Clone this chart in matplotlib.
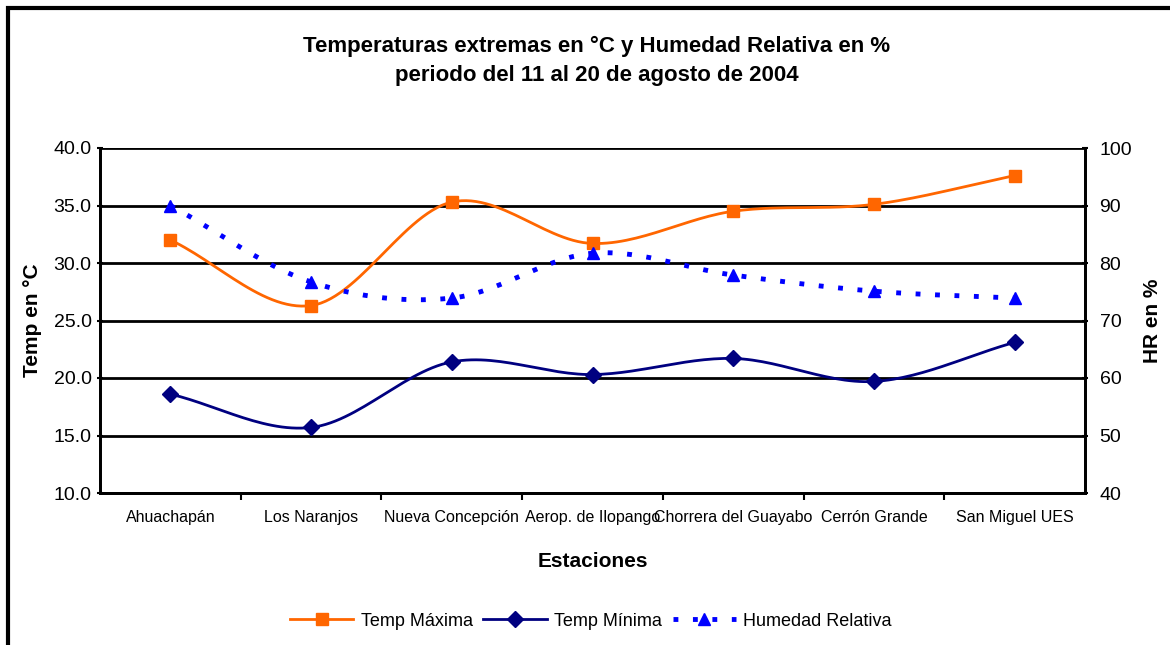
import numpy as np
import matplotlib.pyplot as plt
from matplotlib.lines import Line2D
from matplotlib.patches import Rectangle

plt.rcParams['font.family'] = ['Liberation Sans', 'DejaVu Sans']

estaciones = ["Ahuachapán", "Los Naranjos", "Nueva Concepción", "Aerop. de Ilopango",
              "Chorrera del Guayabo", "Cerrón Grande", "San Miguel UES"]
temp_max = [32.0, 26.3, 35.3, 31.7, 34.5, 35.1, 37.6]
temp_min = [18.6, 15.7, 21.4, 20.3, 21.7, 19.7, 23.1]
humedad = [90.0, 76.7, 73.9, 81.7, 77.9, 75.1, 73.9]


def smooth(x, y, n=30):
    # curva suavizada tipo Excel (Catmull-Rom)
    x = np.asarray(x, float)
    y = np.asarray(y, float)
    px = np.concatenate([[2 * x[0] - x[1]], x, [2 * x[-1] - x[-2]]])
    py = np.concatenate([[2 * y[0] - y[1]], y, [2 * y[-1] - y[-2]]])
    xs, ys = [], []
    t = np.linspace(0, 1, n)
    for i in range(1, len(px) - 2):
        for p, out in ((px, xs), (py, ys)):
            p0, p1, p2, p3 = p[i - 1], p[i], p[i + 1], p[i + 2]
            out.extend(0.5 * ((2 * p1) + (-p0 + p2) * t +
                              (2 * p0 - 5 * p1 + 4 * p2 - p3) * t ** 2 +
                              (-p0 + 3 * p1 - 3 * p2 + p3) * t ** 3))
    return np.array(xs), np.array(ys)


fig = plt.figure(figsize=(11.7, 6.45), dpi=100)
ax = fig.add_axes([100 / 1170, 1 - 493 / 645, 985 / 1170, 345 / 645])
ax2 = ax.twinx()

x = np.arange(len(estaciones))
naranja = '#FF6600'
azul_osc = '#000080'
azul = '#0000FF'

sx, sy = smooth(x, temp_max)
ax.plot(sx, sy, color=naranja, lw=2, zorder=3)
ax.plot(x, temp_max, 's', color=naranja, ms=8, zorder=4)
sx, sy = smooth(x, temp_min)
ax.plot(sx, sy, color=azul_osc, lw=2, zorder=3)
ax.plot(x, temp_min, 'D', color=azul_osc, ms=8, zorder=4)
sx, sy = smooth(x, humedad)
ax2.plot(sx, sy, color=azul, lw=3.5, linestyle=(0, (1, 3)), zorder=3)
ax2.plot(x, humedad, '^', color=azul, ms=9, zorder=4)

ax.set_xlim(-0.5, len(estaciones) - 0.5)
ax.set_ylim(10, 40)
ax.set_yticks(np.arange(10, 40.1, 5))
ax.set_yticklabels([f"{v:.1f}" for v in np.arange(10, 40.1, 5)])
ax2.set_ylim(40, 100)
ax2.set_yticks(np.arange(40, 101, 10))

ax.set_xticks(x)
ax.set_xticklabels(estaciones)
ax.set_xticks(np.arange(0.5, len(estaciones) - 0.5), minor=True)
ax.tick_params(axis='x', which='major', length=0, labelsize=11.5, pad=12)
ax.tick_params(axis='x', which='minor', length=5, width=1.5, direction='out')
ax.tick_params(axis='y', labelsize=14, length=5, width=1.5, direction='inout')
ax2.tick_params(axis='y', labelsize=14, length=5, width=1.5, direction='inout', pad=8)

ax.grid(axis='y', color='black', lw=2)
ax.set_axisbelow(True)
for a in (ax, ax2):
    a.spines['top'].set_visible(False)
    for s in ('left', 'right', 'bottom'):
        a.spines[s].set_linewidth(2)

ax.set_xlabel("Estaciones", fontsize=15, fontweight='bold', labelpad=20)
ax.set_ylabel("Temp en °C", fontsize=15, fontweight='bold', labelpad=8)
ax2.set_ylabel("HR en %", fontsize=15, fontweight='bold', labelpad=8)

fig.text(0.51, 1 - 61 / 645, "Temperaturas extremas en °C y Humedad Relativa en %\n"
         "periodo del 11 al 20 de agosto de 2004",
         ha='center', va='center', fontsize=16, fontweight='bold', linespacing=1.45)

handles = [
    Line2D([], [], color=naranja, lw=2, marker='s', ms=8),
    Line2D([], [], color=azul_osc, lw=2, marker='D', ms=8),
    Line2D([], [], color=azul, lw=3.5, linestyle=(0, (1, 3)), marker='^', ms=9),
]
fig.legend(handles, ["Temp Máxima", "Temp Mínima", "Humedad Relativa"],
           loc='center', bbox_to_anchor=(0.505, 1 - 621 / 645), ncol=3, frameon=False,
           fontsize=13, handlelength=3.5, handletextpad=0.4, columnspacing=0.6)

fig.patches.append(Rectangle((8 / 1170, -0.05), 1.1, 1 - 8 / 645 + 0.05,
                             transform=fig.transFigure, fill=False,
                             edgecolor='black', lw=3))

fig.savefig("out.png", dpi=100)
